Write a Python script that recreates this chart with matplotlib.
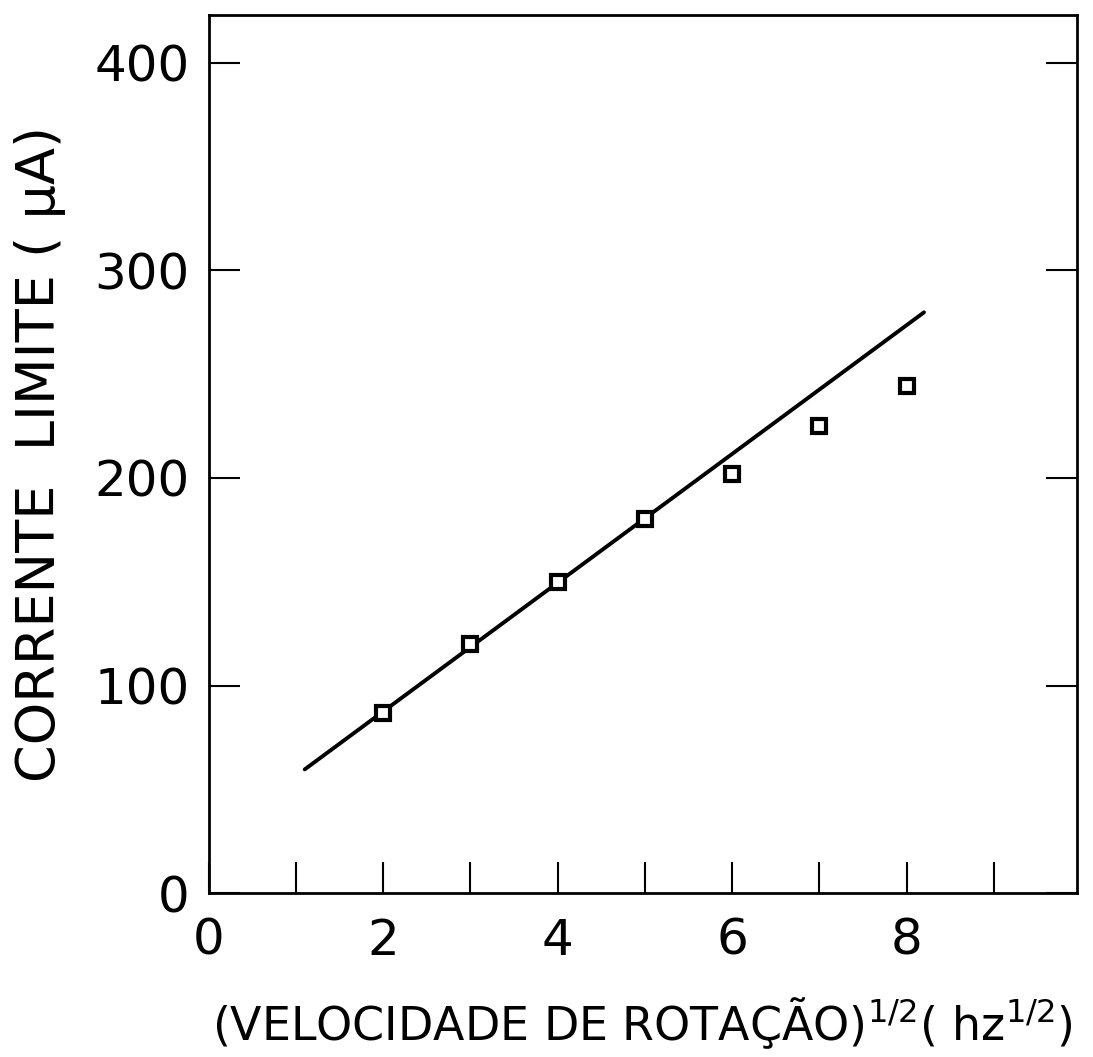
import matplotlib
matplotlib.use("Agg")
import matplotlib.pyplot as plt

# Measured points: sqrt(rotation speed) vs limiting current
rot_sqrt = [2, 3, 4, 5, 6, 7, 8]
current = [87, 120, 150, 180, 202, 225, 244]

# Straight line drawn through the low-speed points
fit_x = [1.1, 8.2]
fit_y = [59.6, 279.7]

x_ticks = [0, 2, 4, 6, 8]
x_minor = [1, 3, 5, 7, 9]
y_ticks = [0, 100, 200, 300, 400]

plt.rcParams['font.family'] = ['DejaVu Sans']
plt.rcParams['mathtext.default'] = 'regular'

fig = plt.figure(figsize=(10.93, 10.57), dpi=100)
ax = fig.add_axes([0.191, 0.155, 0.794, 0.831])

ax.plot(fit_x, fit_y, color='black', lw=2.8, solid_capstyle='round')
ax.plot(rot_sqrt, current, linestyle='none', marker='s', ms=10,
        mfc='white', mec='black', mew=3.0)

ax.set_xlim(0, 9.95)
ax.set_ylim(0, 423)

# bottom: inward ticks every unit, labels on even values
ax.set_xticks(x_ticks)
ax.set_xticks(x_minor, minor=True)
ax.tick_params(axis='x', which='both', direction='in', length=22, width=1.5,
               top=False)
ax.tick_params(axis='x', which='major', labelsize=36, pad=17)

ax.set_yticks(y_ticks)
ax.tick_params(axis='y', direction='in', length=22, width=1.5, right=True,
               labelsize=36, pad=14)

for s in ax.spines.values():
    s.set_linewidth(2.0)

ax.set_xlabel(r"(VELOCIDADE DE ROTAÇÃO)$^{1/2}$( hz$^{1/2}$)", fontsize=33,
              labelpad=22)
ax.set_ylabel("CORRENTE  LIMITE ( µA)", fontsize=39, labelpad=20)

fig.savefig("out.png", dpi=100, facecolor='white')
